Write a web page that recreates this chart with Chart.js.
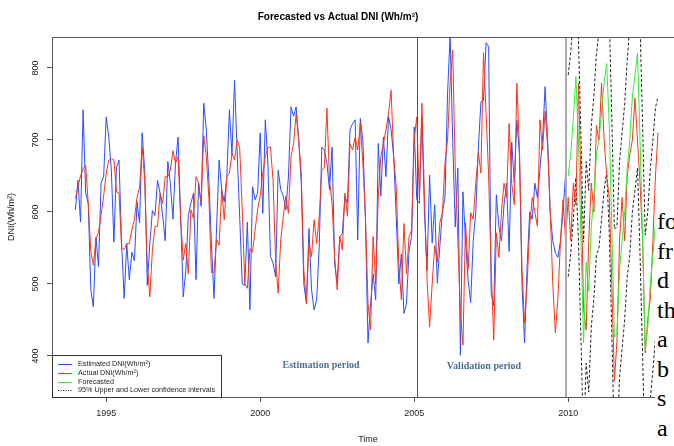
<!DOCTYPE html>
<html>
<head>
<meta charset="utf-8">
<title>Forecasted vs Actual DNI</title>
<script src="https://cdn.jsdelivr.net/npm/chart.js@4.4.1/dist/chart.umd.min.js"></script>
<style>
  html, body { margin: 0; padding: 0; background: #fff; overflow: hidden; }
  #wrap { position: absolute; left: 0; top: 0; width: 700px; height: 446px; }
  #note {
    position: absolute; left: 655px; top: 207px; width: 40px; height: 250px;
    background: #fff; color: #000; padding-left: 2px;
    font-family: 'Liberation Serif', 'Times New Roman', serif; font-size: 24px; line-height: 29.5px;
  }
</style>
</head>
<body>
<div id="wrap"><canvas id="chart"></canvas></div>
<div id="note">fo<br>fr<br>d<br>th<br>a<br>b<br>s<br>a</div>
<script>
// monthly series, one row per year
const startYear = 1994;
const forecastStart = 2010;

const actualDNI = [
  619, 635, 650, 660, 665, 612, 545, 526, 562, 572, 595, 622, // 1994
  654, 672, 674, 672, 628, 626, 550, 548, 556, 556, 575, 590, // 1995
  620, 634, 690, 644, 529, 482, 547, 580, 580, 626, 612, 649, // 1996
  649, 658, 685, 668, 677, 591, 533, 556, 514, 603, 591, 649, // 1997
  640, 612, 706, 677, 620, 516, 516, 562, 554, 631, 589, 649, // 1998
  654, 681, 672, 700, 690, 603, 500, 494, 549, 544, 575, 603, // 1999
  622, 654, 677, 690, 690, 644, 533, 487, 561, 594, 622, 598, // 2000
  677, 695, 737, 700, 654, 519, 473, 556, 538, 589, 556, 594, // 2001
  658, 662, 744, 644, 612, 538, 492, 566, 547, 626, 594, 695, // 2002
  686, 704, 686, 723, 668, 594, 473, 436, 566, 500, 622, 677, // 2003
  695, 714, 737, 769, 677, 635, 529, 478, 584, 514, 566, 575, // 2004
  700, 732, 620, 751, 620, 506, 440, 500, 553, 530, 585, 599, // 2005
  668, 700, 780, 825, 660, 560, 460, 415, 585, 520, 599, 590, // 2006
  640, 682, 654, 821, 738, 650, 520, 422, 571, 537, 600, 640, // 2007
  620, 723, 640, 610, 779, 690, 520, 446, 500, 580, 620, 600, // 2008
  580, 728, 686, 740, 690, 600, 500, 432, 480, 560, 617, 560, // 2009
  620, 560, 640, 610, 779, 640, 464, 436, 560, 640, 600, 720, // 2010
  700, 779, 700, 650, 620, 500, 365, 420, 560, 620, 560, 650, // 2011
  680, 700, 758, 700, 640, 560, 404, 450, 480, 560, 650, 710  // 2012
];

const estimatedDNI = [
  603, 644, 586, 742, 626, 612, 492, 468, 565, 524, 640, 649, // 1994
  732, 704, 658, 558, 662, 672, 556, 480, 556, 506, 544, 532, // 1995
  614, 585, 710, 658, 498, 556, 602, 595, 644, 626, 595, 560, // 1996
  670, 640, 590, 668, 704, 595, 482, 518, 595, 612, 626, 506, // 1997
  640, 608, 751, 714, 644, 556, 480, 577, 672, 631, 614, 649, // 1998
  742, 680, 783, 685, 594, 500, 498, 586, 464, 635, 617, 626, // 1999
  710, 598, 728, 668, 538, 529, 510, 658, 631, 622, 603, 649, // 2000
  746, 733, 746, 700, 640, 500, 473, 577, 492, 464, 478, 552, // 2001
  690, 686, 668, 631, 690, 529, 500, 566, 570, 622, 612, 714, // 2002
  723, 728, 561, 730, 700, 589, 418, 473, 514, 478, 695, 622, // 2003
  704, 649, 733, 714, 677, 594, 500, 542, 459, 473, 547, 566, // 2004
  718, 617, 612, 732, 600, 519, 651, 557, 610, 501, 553, 600, // 2005
  620, 765, 845, 700, 579, 661, 401, 628, 560, 506, 474, 560, // 2006
  600, 689, 753, 755, 835, 830, 487, 470, 624, 580, 560, 610, // 2007
  640, 545, 697, 640, 728, 680, 500, 418, 525, 600, 590, 640, // 2008
  620, 660, 700, 774, 700, 599, 560, 543, 537, 560, 600, 654  // 2009
];

const forecastDNI = [
  650, 682, 730, 788, 700, 560, 418, 530, 490, 580, 620, 680, // 2010
  700, 740, 780, 806, 720, 580, 426, 430, 519, 560, 600, 660, // 2011
  700, 760, 790, 821, 700, 560, 408, 440, 500, 540, 585, 600  // 2012
];

const upperCI = [
  790, 822, 870, 928, 840, 700, 558, 670, 630, 720, 760, 820,
  850, 890, 930, 956, 870, 730, 576, 580, 669, 710, 750, 810,
  860, 920, 950, 981, 860, 720, 568, 600, 660, 700, 745, 760
];

const lowerCI = [
  510, 542, 590, 648, 560, 420, 278, 390, 350, 440, 480, 540,
  550, 590, 630, 656, 570, 430, 276, 280, 369, 410, 450, 510,
  540, 600, 630, 661, 540, 400, 248, 280, 340, 380, 425, 440
];

const xTickYears = [1995, 2000, 2005, 2010];
const yTickValues = [400, 500, 600, 700, 800];
const periodSplits = [2005.08, 2009.93];

const seriesLabels = [
  'Estimated DNI(Wh/m²)',
  'Actual DNI(Wh/m²)',
  'Forecasted',
  '95% Upper and Lower confidence intervals'
];

const BLUE = '#2a4dff';
const RED = '#ff3318';
const GREEN = '#33ee33';
const DOTTED = '#222';

function monthly(start, values) {
  return values.map((v, i) => ({ x: start + i / 12, y: v }));
}

const lineBase = { pointRadius: 0, borderWidth: 1, tension: 0, fill: false };

const decorations = {
  id: 'decorations',
  afterDatasetsDraw(chart) {
    const { ctx, chartArea: a, scales: { x } } = chart;
    ctx.save();
    // estimation / validation split lines
    let px = Math.round(x.getPixelForValue(periodSplits[0])) + 0.5;
    ctx.strokeStyle = '#555';
    ctx.lineWidth = 1;
    ctx.beginPath(); ctx.moveTo(px, a.top); ctx.lineTo(px, a.bottom); ctx.stroke();
    px = Math.round(x.getPixelForValue(periodSplits[1]));
    ctx.strokeStyle = '#aaa';
    ctx.lineWidth = 2;
    ctx.beginPath(); ctx.moveTo(px, a.top); ctx.lineTo(px, a.bottom); ctx.stroke();
    ctx.restore();
  },
  afterDraw(chart) {
    const { ctx, chartArea: a, scales: { y } } = chart;
    ctx.save();
    // plot frame
    ctx.strokeStyle = '#555';
    ctx.lineWidth = 1;
    ctx.strokeRect(a.left + 0.5, a.top + 0.5, a.right - a.left, a.bottom - a.top);

    // title
    ctx.fillStyle = '#000';
    ctx.textAlign = 'center';
    ctx.textBaseline = 'middle';
    ctx.font = 'bold 10px "Liberation Sans", Arial, sans-serif';
    ctx.fillText('Forecasted vs Actual DNI (Wh/m²)', 338, 17);

    // axis titles
    ctx.font = '9px "Liberation Sans", Arial, sans-serif';
    ctx.fillStyle = '#222';
    ctx.fillText('Time', (a.left + a.right) / 2, 440);
    ctx.save();
    ctx.translate(12, (a.top + a.bottom) / 2);
    ctx.rotate(-Math.PI / 2);
    ctx.fillText('DNI(Wh/m²)', 0, 0);
    ctx.restore();

    // y tick labels, parallel to the axis
    yTickValues.forEach(v => {
      ctx.save();
      ctx.translate(36, y.getPixelForValue(v));
      ctx.rotate(-Math.PI / 2);
      ctx.fillText(String(v), 0, 0);
      ctx.restore();
    });

    // period labels
    ctx.font = 'bold 10px "Liberation Serif", "Times New Roman", serif';
    ctx.fillStyle = '#4d6e96';
    ctx.fillText('Estimation period', 321, 365);
    ctx.fillText('Validation period', 484, 366);

    // legend
    const lx = a.left + 0.5, ly = 355.5, lw = 169, lh = 42;
    ctx.fillStyle = '#fff';
    ctx.fillRect(lx, ly, lw, lh);
    ctx.strokeStyle = '#333';
    ctx.lineWidth = 1;
    ctx.strokeRect(lx, ly, lw, lh);
    const colors = [BLUE, RED, GREEN, DOTTED];
    ctx.font = '7.2px "Liberation Sans", Arial, sans-serif';
    ctx.textAlign = 'left';
    seriesLabels.forEach((label, i) => {
      const ry = 364 + i * 8.8;
      ctx.strokeStyle = colors[i];
      ctx.setLineDash(i === 3 ? [1, 1.5] : []);
      ctx.beginPath(); ctx.moveTo(58, Math.round(ry) + 0.5); ctx.lineTo(72, Math.round(ry) + 0.5); ctx.stroke();
      ctx.fillStyle = '#222';
      ctx.fillText(label, 78, ry);
    });
    ctx.restore();
  }
};

new Chart(document.getElementById('chart'), {
  type: 'line',
  data: {
    datasets: [
      { ...lineBase, label: seriesLabels[2], data: monthly(forecastStart, forecastDNI), borderColor: GREEN, order: 0 },
      { ...lineBase, label: seriesLabels[1], data: monthly(startYear, actualDNI), borderColor: RED, order: 1 },
      { ...lineBase, label: seriesLabels[0], data: monthly(startYear, estimatedDNI), borderColor: BLUE, order: 2 },
      { ...lineBase, label: 'Upper 95%', data: monthly(forecastStart, upperCI), borderColor: DOTTED, borderDash: [3, 2], order: 3 },
      { ...lineBase, label: 'Lower 95%', data: monthly(forecastStart, lowerCI), borderColor: DOTTED, borderDash: [3, 2], order: 3 }
    ]
  },
  options: {
    responsive: true,
    maintainAspectRatio: false,
    animation: false,
    events: [],
    layout: { padding: { top: 37, right: 16, left: 0, bottom: 0 } },
    plugins: { legend: { display: false }, title: { display: false }, tooltip: { enabled: false } },
    scales: {
      x: {
        type: 'linear',
        min: 1993.24,
        max: 2013.76,
        afterBuildTicks: s => { s.ticks = xTickYears.map(v => ({ value: v })); },
        afterFit: s => { s.height = 49; },
        grid: { drawOnChartArea: false, drawTicks: true, tickLength: 5, color: '#555' },
        border: { display: false },
        ticks: {
          autoSkip: false, maxRotation: 0, minRotation: 0, padding: 6,
          color: '#222', font: { family: '"Liberation Sans", Arial, sans-serif', size: 9 },
          callback: v => String(v)
        }
      },
      y: {
        type: 'linear',
        min: 343,
        max: 843,
        afterBuildTicks: s => { s.ticks = yTickValues.map(v => ({ value: v })); },
        afterFit: s => { s.width = 52; },
        grid: { drawOnChartArea: false, drawTicks: true, tickLength: 5, color: '#555' },
        border: { display: false },
        ticks: { display: false }
      }
    }
  },
  plugins: [decorations]
});
</script>
</body>
</html>
